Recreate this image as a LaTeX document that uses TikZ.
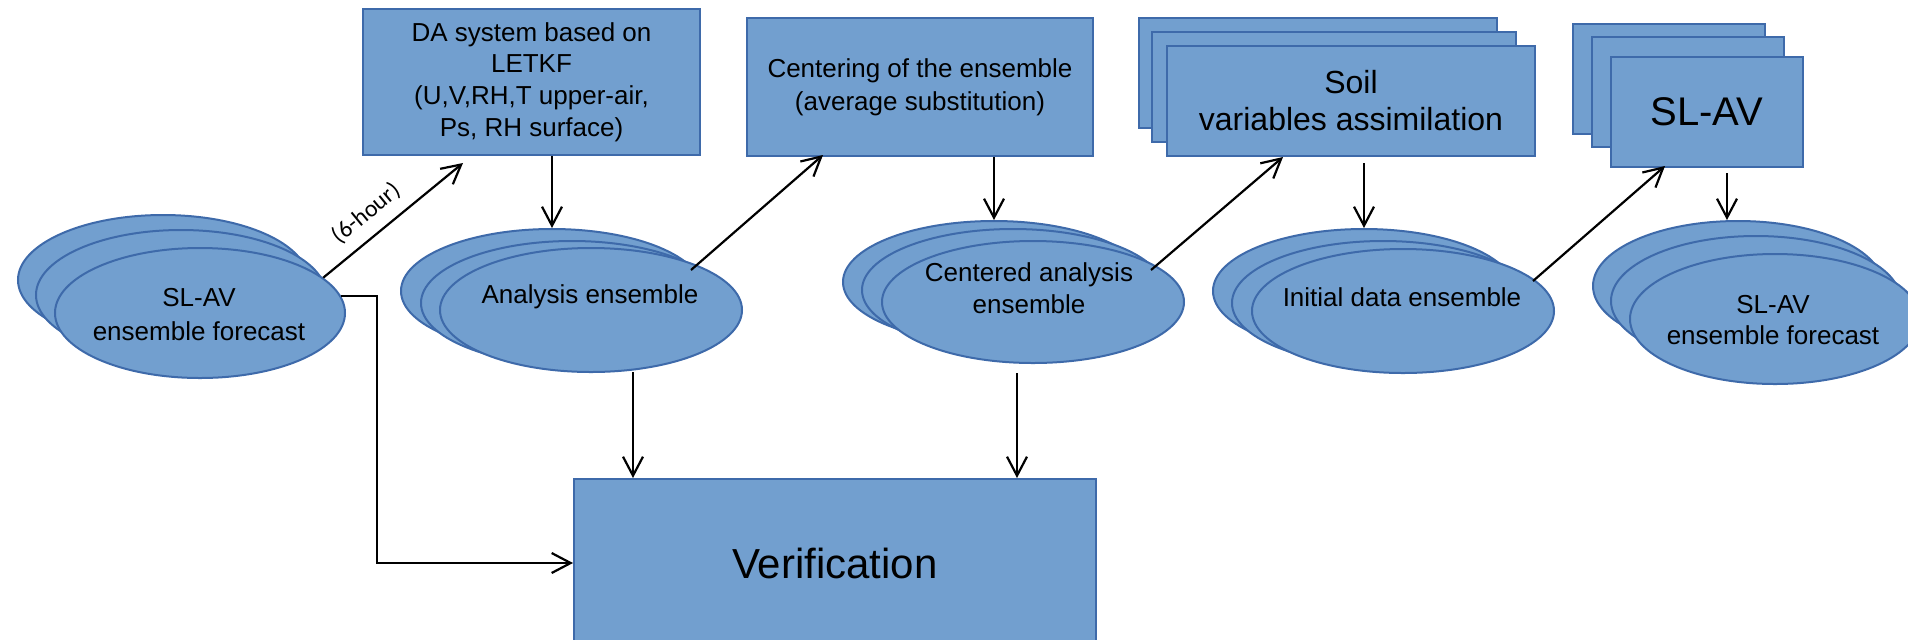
\documentclass[tikz,border=0pt]{standalone}
\usepackage{fontspec}
\setmainfont{Liberation Sans}
\newfontfamily\calfont{Carlito}
\usetikzlibrary{shapes.geometric,arrows.meta,calc}
\definecolor{fillc}{RGB}{114,159,207}
\definecolor{linec}{RGB}{62,106,170}
\begin{document}
\begin{tikzpicture}[x=0.5pt,y=-0.5pt,
  shp/.style={fill=fillc,draw=linec,line width=1pt},
  ell/.style 2 args={shp,ellipse,inner sep=0pt,minimum width=#1,minimum height=#2},
  box/.style 2 args={shp,rectangle,inner sep=0pt,align=center,minimum width=#1,minimum height=#2},
  txt/.style={inner sep=0pt,align=center},
  arr/.style={-{Straight Barb[length=9.5pt,width=10pt]},line width=1.1pt,black},
  ]
\useasboundingbox (0,0) rectangle (1908,639);
\clip (0,0) rectangle (1908,639);
\fill[white] (0,0) rectangle (1908,639);

% left forecast ensemble
\node[ell={145pt}{65pt}] (fl3) at (163,280) {};
\node[ell={145pt}{65pt}] (fl2) at (181,295) {};
\node[ell={145pt}{65pt}] (fl1) at (200,313) {};
\node[txt,font=\fontsize{13pt}{17pt}\selectfont] (flt) at (199,315) {SL-AV\\ensemble forecast};

% DA box
\node[box={168.5pt}{73pt},font=\fontsize{13pt}{15.85pt}\selectfont] (da) at (531.5,82)
  {DA system based on\\LETKF\\(U,V,RH,T upper-air,\\Ps, RH surface)};

% analysis ensemble
\node[ell={151pt}{62pt}] (an3) at (552,291) {};
\node[ell={151pt}{62pt}] (an2) at (572,303) {};
\node[ell={151pt}{62pt}] (an1) at (591,310) {};
\node[txt,font=\fontsize{13pt}{16pt}\selectfont] (ant) at (590,297) {Analysis ensemble};

% centering box
\node[box={173pt}{69pt},font=\fontsize{13pt}{16.5pt}\selectfont] (cen) at (920,87)
  {Centering of the ensemble\\(average substitution)};

% centered analysis ensemble
\node[ell={151pt}{61pt}] (ce3) at (994,282) {};
\node[ell={151pt}{61pt}] (ce2) at (1013,290) {};
\node[ell={151pt}{61pt}] (ce1) at (1033,302) {};
\node[txt,font=\fontsize{13pt}{16pt}\selectfont] (cet) at (1029,288) {Centered analysis\\ensemble};

% soil boxes
\node[box={179pt}{55pt}] (soil3) at (1318,73) {};
\node[box={182pt}{55pt}] (soil2) at (1334,87) {};
\node[box={184pt}{55pt},font=\fontsize{16pt}{18.5pt}\selectfont] (soil1) at (1351,101)
  {Soil\\variables assimilation};

% initial data ensemble
\node[ell={151pt}{62pt}] (in3) at (1364,291) {};
\node[ell={151pt}{62pt}] (in2) at (1383,303) {};
\node[ell={151pt}{62pt}] (in1) at (1403,311) {};
\node[txt,font=\fontsize{13pt}{16pt}\selectfont] (int) at (1402,297) {Initial data ensemble};

% SL-AV boxes
\node[box={96pt}{55pt}] (sb3) at (1669,79) {};
\node[box={96pt}{55pt}] (sb2) at (1688,92) {};
\node[box={96pt}{55pt},font=\fontsize{20pt}{24pt}\selectfont] (sb1) at (1707,112) {SL-AV};

% right forecast ensemble
\node[ell={145pt}{65pt}] (fr3) at (1738,286) {};
\node[ell={145pt}{65pt}] (fr2) at (1756,301) {};
\node[ell={145pt}{65pt}] (fr1) at (1775,319) {};
\node[txt,font=\fontsize{13pt}{15.5pt}\selectfont] (frt) at (1773,320) {SL-AV\\ensemble forecast};

% verification
\node[box={261pt}{84pt},font=\fontsize{21pt}{25pt}\selectfont] (ver) at (835,563) {Verification};

% connectors
\draw[arr] (fl1.16) -- node[pos=0.41,sloped,above=5.5pt,inner sep=0pt,font=\calfont\fontsize{12pt}{14pt}\selectfont] (lbl) {(6-hour)} ([xshift=-34.25pt,yshift=-3.5pt]da.south);
\draw[arr] (da.south -| an3.north) -- (an3.north);
\draw[arr] ([xshift=50pt,yshift=20pt]an1.center) -- ([xshift=-48.5pt,yshift=1pt]cen.south);
\draw[arr] (cen.south -| ce3.north) -- (ce3.north);
\draw[arr] ([xshift=59pt,yshift=16pt]ce1.center) -- ([xshift=-34pt]soil1.south);
\draw[arr] ($(soil1.south -| in3.north)+(0,6)$) -- (in3.north);
\draw[arr] ([xshift=65pt,yshift=15pt]in1.center) -- ([xshift=-21pt,yshift=1pt]sb1.south);
\draw[arr] ($(sb1.south)+(20,5)$) -- ($(sb1.south |- fr3.north)+(20,0)$);
\draw[arr] ($(an1.south)+(42,-1)$) -- ($(an1.south |- ver.north)+(42,0)$);
\draw[arr] ($(ce1.south)+(-16,9)$) -- ($(ce1.south |- ver.north)+(-16,0)$);
\draw[arr] (fl1.7) -- ++(18pt,0) |- (ver.west);
\end{tikzpicture}
\end{document}
